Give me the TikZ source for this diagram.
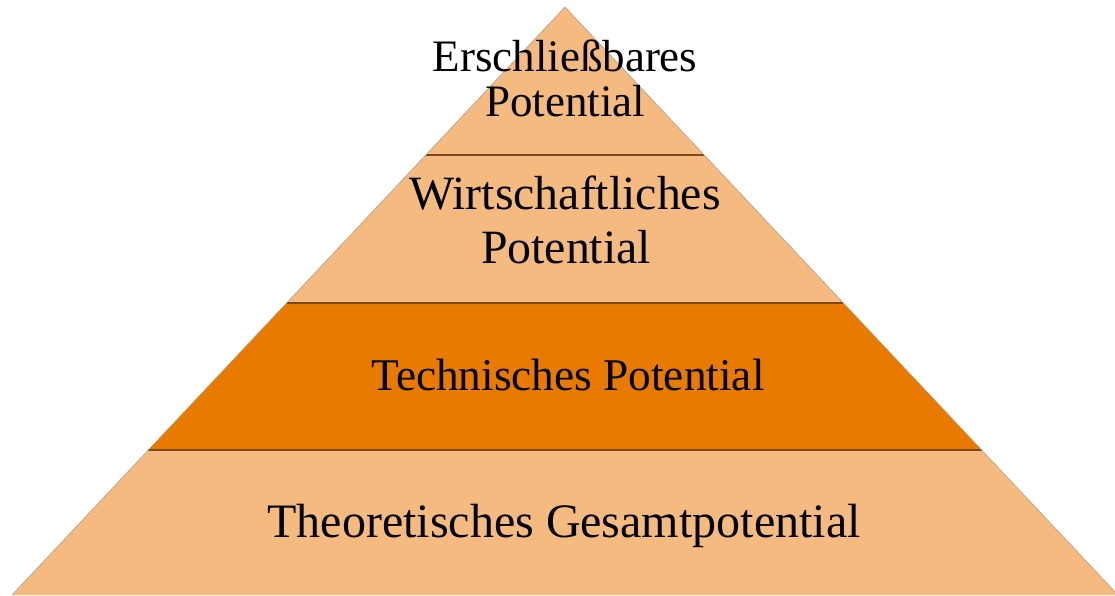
\documentclass[tikz,border=0pt]{standalone}
\usepackage{fontspec}
\setmainfont{Liberation Serif}
\usetikzlibrary{calc}
\definecolor{lightor}{HTML}{F5BA80}
\definecolor{darkor}{HTML}{E97A00}
\definecolor{divline}{HTML}{7A4A1E}
\definecolor{edgegray}{HTML}{B0A090}
\tikzset{
  lbl/.style={anchor=base, inner sep=0pt, text=black},
  divider/.style={draw=divline, line width=1.2pt},
}
\begin{document}
\begin{tikzpicture}[x=1pt,y=1pt]
\useasboundingbox (0,0) rectangle (1115,595);
\begin{scope}
\clip (0,0) rectangle (1115,595);
\coordinate (apex) at (565,588);
\coordinate (bl) at (12,0);
\coordinate (br) at (1118,0);
\coordinate (l1) at ($(apex)!0.2517!(bl)$);
\coordinate (r1) at ($(apex)!0.2517!(br)$);
\coordinate (l2) at ($(apex)!0.5034!(bl)$);
\coordinate (r2) at ($(apex)!0.5034!(br)$);
\coordinate (l3) at ($(apex)!0.7534!(bl)$);
\coordinate (r3) at ($(apex)!0.7534!(br)$);
\fill[lightor] (apex) -- (bl) -- (br) -- cycle;
\fill[darkor] (l2) -- (r2) -- (r3) -- (l3) -- cycle;
\draw[divider] (l1) -- (r1);
\draw[divider] (l2) -- (r2);
\draw[divider] (l3) -- (r3);
\draw[edgegray, line width=0.6pt] (bl) -- (apex) -- (br);
\end{scope}
\node[lbl, font=\fontsize{45}{45}\selectfont] (e1) at (565,523) {Erschließbares};
\node[lbl, font=\fontsize{45}{45}\selectfont] (e2) at (565,478) {Potential};
\node[lbl, font=\fontsize{47.8}{47.8}\selectfont] (w1) at (565,385) {Wirtschaftliches};
\node[lbl, font=\fontsize{47.8}{47.8}\selectfont] (w2) at (566,331) {Potential};
\node[lbl, font=\fontsize{45.3}{45.3}\selectfont] (t1) at (568,205) {Technisches Potential};
\node[lbl, font=\fontsize{48}{48}\selectfont] (g1) at (564,58) {Theoretisches Gesamtpotential};
\end{tikzpicture}
\end{document}
